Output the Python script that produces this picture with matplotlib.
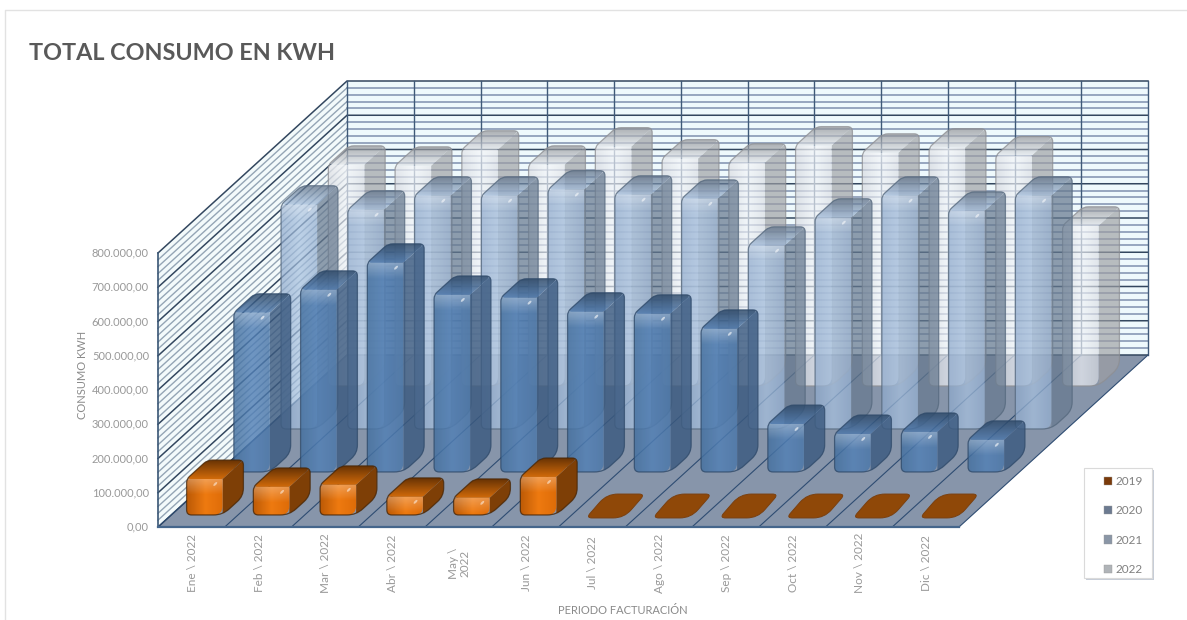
import numpy as np
import matplotlib
matplotlib.use("Agg")
import matplotlib.pyplot as plt
from matplotlib.colors import LinearSegmentedColormap
from matplotlib.patches import Ellipse, Patch, PathPatch, Polygon, Rectangle
from matplotlib.path import Path

plt.rcParams["font.family"] = ["Lato", "DejaVu Sans"]

months = ["Ene \\ 2022", "Feb \\ 2022", "Mar \\ 2022", "Abr \\ 2022", "May \\\n2022", "Jun \\ 2022",
          "Jul \\ 2022", "Ago \\ 2022", "Sep \\ 2022", "Oct \\ 2022", "Nov \\ 2022", "Dic \\ 2022"]
years = ["2019", "2020", "2021", "2022"]
kwh_2019 = [105000, 82000, 88000, 53000, 50000, 111000, 0, 0, 0, 0, 0, 0]
kwh_2020 = [465000, 532000, 611000, 517000, 509000, 468000, 462000, 418000, 140000, 111000, 117000, 94000]
kwh_2021 = [655000, 640000, 681000, 681000, 699000, 684000, 672000, 535000, 617000, 681000, 637000, 681000]
kwh_2022 = [646000, 643000, 690000, 646000, 699000, 664000, 652000, 702000, 681000, 696000, 673000, 468000]
y_ticks = [0, 100000, 200000, 300000, 400000, 500000, 600000, 700000, 800000]

series = [kwh_2019, kwh_2020, kwh_2021, kwh_2022]

# oblique view of the 3d chart, in output pixels
X0, Y0 = 158, 527
CAT_W = 66.75
DX, DY = 47.25, 43
K = 274 / 800000

styles = [
    dict(front=["#BC5A06", "#EE7A10", "#DE6C08"], side="#7E3F06", top=["#6A3404", "#D06A0A"], edge="#4A2604",
         alpha=1.0, spot=0.5),
    dict(front=["#44709F", "#5280B6", "#4A76A8"], side="#3B5A80", top=["#2C4868", "#4D78AC"], edge="#2F4A6A",
         alpha=0.82, spot=0.6),
    dict(front=["#8EA9CC", "#A8C2E0", "#93AED0"], side="#66798F", top=["#5E7188", "#A2BCDC"], edge="#56697E",
         alpha=0.72, spot=0.55),
    dict(front=["#D6D8DE", "#F2F4F8", "#DADCE2"], side="#9E9FA3", top=["#8F9094", "#E2E4E8"], edge="#8E8F93",
         alpha=0.68, spot=0.0),
]


def project(cat, depth, value=0):
    return X0 + cat * CAT_W + depth * DX, Y0 - value * K - depth * DY


def rounded(points, radii):
    # closed path with the corners cut by quadratic curves
    verts, codes = [], []
    n = len(points)
    for i in range(n):
        p = np.array(points[i], float)
        a = np.array(points[i - 1], float)
        b = np.array(points[(i + 1) % n], float)
        la, lb = np.linalg.norm(a - p), np.linalg.norm(b - p)
        r = min(radii[i], la * 0.45, lb * 0.45)
        start = p + (a - p) / max(la, 1e-6) * r
        end = p + (b - p) / max(lb, 1e-6) * r
        verts.append(start)
        codes.append(Path.MOVETO if i == 0 else Path.LINETO)
        verts += [p, end]
        codes += [Path.CURVE3, Path.CURVE3]
    verts.append(verts[0])
    codes.append(Path.CLOSEPOLY)
    return Path(verts, codes)


def draw_bar(ax, i, s, value, st):
    c0, c1 = i + 0.23, i + 0.77
    d0, d1 = s + 0.28, s + 0.72
    fbl, fbr = project(c0, d0), project(c1, d0)
    bbr = project(c1, d1)
    ftl, ftr = project(c0, d0, value), project(c1, d0, value)
    btl, btr = project(c0, d1, value), project(c1, d1, value)
    a = st["alpha"]
    z = 10 + (3 - s) * 10

    if value == 0:
        flat = [(fbl[0] - 1, fbl[1] + 3), (fbr[0] + 1, fbr[1] + 3), (bbr[0] + 1, bbr[1] - 2), (btl[0] - 1, btl[1] - 2)]
        ax.add_patch(PathPatch(rounded(flat, [6, 11, 6, 11]), fc="#8F4808", ec="#7A4010", lw=0.7, zorder=z))
        return

    outline = rounded([fbl, fbr, bbr, btr, btl, ftl], [5, 9, 8, 5, 5, 4])
    side = Polygon([ftr, btr, bbr, (bbr[0] - 30, bbr[1] + 30), fbr], fc=st["side"], ec="none", alpha=a, zorder=z)
    ax.add_patch(side)
    side.set_clip_path(outline, transform=ax.transData)

    top_path = rounded([ftl, ftr, btr, btl], [4, 1, 5, 5])
    top_cmap = LinearSegmentedColormap.from_list("top", st["top"])
    im_top = ax.imshow(np.linspace(0, 1, 32)[:, None], cmap=top_cmap, aspect="auto", alpha=a, interpolation="bilinear",
                       origin="upper", extent=(ftl[0], btr[0], ftl[1], btl[1]), zorder=z + 0.05)
    im_top.set_clip_path(top_path, transform=ax.transData)

    front_path = rounded([fbl, fbr, ftr, ftl], [5, 9, 1, 4])
    cmap = LinearSegmentedColormap.from_list("front", st["front"])
    im = ax.imshow(np.linspace(0, 1, 64)[None, :], cmap=cmap, aspect="auto", alpha=a, interpolation="bilinear",
                   extent=(fbl[0], fbr[0], fbl[1], ftl[1]), zorder=z + 0.1)
    im.set_clip_path(front_path, transform=ax.transData)

    # soft light where the bevel turns over the front
    fade = np.ones((24, 1, 4))
    fade[:, :, 3] = np.linspace(0.28, 0, 24)[:, None]
    im_fade = ax.imshow(fade, aspect="auto", origin="upper", interpolation="bilinear",
                        extent=(ftl[0], ftr[0], ftl[1] + 16, ftl[1]), zorder=z + 0.2)
    im_fade.set_clip_path(front_path, transform=ax.transData)

    ax.add_patch(PathPatch(outline, fc="none", ec=st["edge"], lw=0.9, alpha=0.8, zorder=z + 0.3))
    if st["spot"] > 0:
        hx, hy = project(i + 0.66, d0, value)
        ax.add_patch(Ellipse((hx, hy + 5), 5, 2.2, angle=-45, fc="white", ec="none", alpha=st["spot"], zorder=z + 0.4))


fig = plt.figure(figsize=(11.87, 6.2), dpi=100, facecolor="white")
ax = fig.add_axes([0, 0, 1, 1])

# card border
ax.plot([5, 5, 1187], [620, 10, 10], color="#E2E2E2", lw=1, zorder=1)

# walls and floor
top_val = y_ticks[-1]
ncat = len(months)
back = [project(0, 4), project(ncat, 4), project(ncat, 4, top_val), project(0, 4, top_val)]
left = [project(0, 0), project(0, 4), project(0, 4, top_val), project(0, 0, top_val)]
floor = [project(0, 0), project(ncat, 0), project(ncat, 4), project(0, 4)]
ax.add_patch(Polygon(back, fc="#EEF9FC", ec="none", zorder=2))
ax.add_patch(Polygon(left, fc="#F3FAFB", ec="none", zorder=2))
ax.add_patch(Polygon(floor, fc="#8795AA", ec="none", zorder=3))

for v in np.arange(0, top_val + 1, 20000):
    lx0, ly0 = project(0, 0, v)
    lx1, ly1 = project(0, 4, v)
    rx, ry = project(ncat, 4, v)
    if v in y_ticks:
        ax.plot([lx0, lx1, rx], [ly0, ly1, ry], color="#33475F", lw=1.1, zorder=4, solid_joinstyle="miter")
    else:
        ax.plot([lx0, lx1], [ly0, ly1], color="#94A5B5", lw=1.0, zorder=4)
        ax.plot([lx1, rx], [ly1, ry], color="#7F90AE", lw=1.1, zorder=4)

for i in range(ncat + 1):
    bx, by = project(i, 4)
    tx, ty = project(i, 4, top_val)
    ax.plot([bx, tx], [by, ty], color="#3F5A78", lw=1.0, zorder=4)
    fx, fy = project(i, 0)
    ax.plot([fx, bx], [fy, by], color="#2E4C72", lw=0.8, zorder=4)

ax.plot(*zip(project(0, 0), project(0, 0, top_val)), color="#3A5675", lw=1.2, zorder=5)
ax.plot(*zip(project(0, 0), project(ncat, 0)), color="#45668C", lw=1.6, zorder=5)

for s in range(3, -1, -1):
    for i, value in enumerate(series[s]):
        draw_bar(ax, i, s, value, styles[s])

ax.set_xlim(0, 1187)
ax.set_ylim(620, 0)
ax.axis("off")

# texts
ax.text(29, 53, "TOTAL CONSUMO EN KWH", fontsize=16.8, fontweight="bold", color="#595959", va="center", ha="left")
for v in y_ticks:
    label = f"{v:,.2f}".replace(",", "#").replace(".", ",").replace("#", ".")
    ax.text(149, project(0, 0, v)[1], label, fontsize=8, color="#999999", ha="right", va="center")
for i, m in enumerate(months):
    ax.text(project(i + 0.5, 0)[0] + 1, 563, m, fontsize=8.5, color="#999999", rotation=90, ha="center", va="center",
            linespacing=1.0)
ax.text(83, 375, "CONSUMO KWH", fontsize=8, color="#8A8A8A", rotation=90, ha="center", va="center")
ax.text(623, 611, "PERIODO FACTURACIÓN", fontsize=8, color="#8A8A8A", ha="center", va="center")

# legend box, then the legend itself without a frame
ax.add_patch(Rectangle((1086, 470), 68, 110, fc="#AEB8C6", ec="none", alpha=0.7, zorder=98))
ax.add_patch(Rectangle((1084, 468), 68, 110, fc="white", ec="#DADADA", lw=0.8, zorder=99))
handles = [Patch(fc=c, ec="#9A9A9A", lw=0.3) for c in ["#7A3A0A", "#6C7A90", "#8A96A6", "#B0B4B8"]]
leg = ax.legend(handles, years, loc="upper left", bbox_to_anchor=(1104 / 1187, 1 - 476 / 620), fontsize=8.5,
                frameon=False, handlelength=0.7, handleheight=0.7, handletextpad=0.3,
                labelspacing=1.55, borderpad=0, borderaxespad=0, labelcolor="#808080")
leg.set_zorder(100)

fig.savefig("out.png", dpi=100)
